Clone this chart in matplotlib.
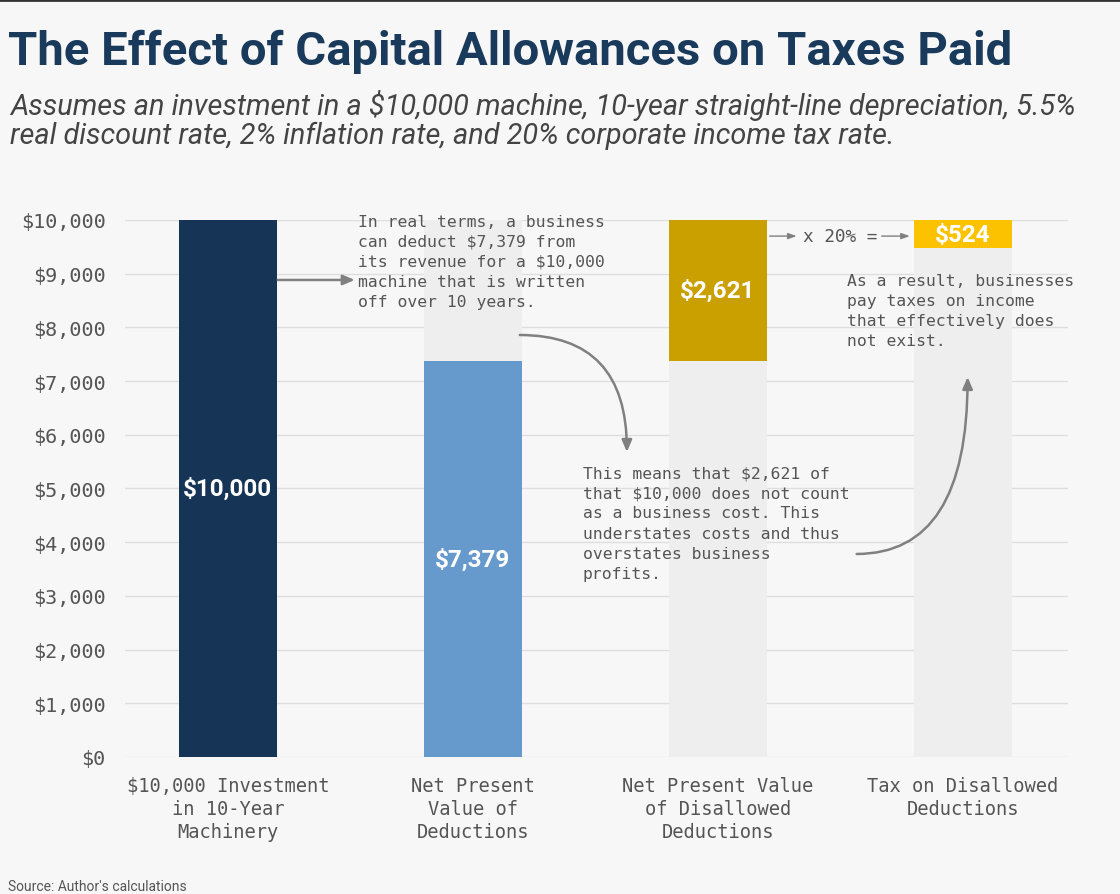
import matplotlib
matplotlib.use("Agg")
import matplotlib.pyplot as plt
from matplotlib.lines import Line2D

# Data
categories = ["$10,000 Investment\nin 10-Year\nMachinery",
              "Net Present\nValue of\nDeductions",
              "Net Present Value\nof Disallowed\nDeductions",
              "Tax on Disallowed\nDeductions"]
investment = 10000
npv_deductions = 7379
disallowed = 2621
tax_paid = 524
values = [investment, npv_deductions, disallowed, tax_paid]
bottoms = [0, 0, investment - disallowed, investment - tax_paid]
bar_colors = ["#163556", "#6699cc", "#c9a000", "#fcc200"]
yticks = list(range(0, 11000, 1000))

BG = "#f7f7f7"
TXT = "#555555"
ARROW = "#808080"
MONO = "DejaVu Sans Mono"

fig = plt.figure(figsize=(11.2, 8.95), dpi=100, facecolor=BG)
ax = fig.add_axes([0.1116, 0.1531, 0.8420, 0.6000], facecolor=BG)

x = list(range(len(values)))
width = 0.4

# light backdrop columns behind the last three bars
ax.bar(x[1:], [investment] * 3, width=width, color="#eeeeee", zorder=1)
ax.bar(x, values, width=width, bottom=bottoms, color=bar_colors, zorder=2)

for i, (v, b) in enumerate(zip(values, bottoms)):
    ax.text(i, b + v / 2, "${:,}".format(v), ha="center", va="center",
            color="white", fontsize=17.5, fontweight="bold", family="Roboto",
            zorder=3)

ax.set_xlim(-0.42, 3.43)
ax.set_ylim(0, 10000)
ax.set_yticks(yticks)
ax.set_yticklabels(["${:,}".format(t) for t in yticks], family=MONO,
                   fontsize=14.5, color=TXT)
ax.set_xticks(x)
ax.set_xticklabels(categories, family=MONO, fontsize=13.5, color=TXT,
                   linespacing=1.25)
ax.tick_params(axis="y", length=0, pad=14)
ax.tick_params(axis="x", length=0, pad=14)
ax.grid(axis="y", color="#dedede", lw=1)
ax.set_axisbelow(True)
for s in ax.spines.values():
    s.set_visible(False)

# annotations
note_kw = dict(family=MONO, fontsize=11.8, color=TXT, ha="left", va="top",
               linespacing=1.42, zorder=4)
ax.text(0.531, 10120, "In real terms, a business\ncan deduct $7,379 from\n"
        "its revenue for a $10,000\nmachine that is written\noff over 10 years.",
        **note_kw)
ax.text(1.449, 5430, "This means that $2,621 of\nthat $10,000 does not count\n"
        "as a business cost. This\nunderstates costs and thus\n"
        "overstates business\nprofits.", **note_kw)
ax.text(2.527, 9020, "As a result, businesses\npay taxes on income\n"
        "that effectively does\nnot exist.", **note_kw)
ax.text(2.347, 9700, "x 20% =", family=MONO, fontsize=12.8, color=TXT,
        ha="left", va="center", zorder=4)

big = dict(arrowstyle="-|>,head_length=0.7,head_width=0.3", color=ARROW,
           lw=1.8, shrinkA=0, shrinkB=0)
ax.annotate("", xy=(0.518, 8883), xytext=(0.204, 8883), arrowprops=big)
ax.annotate("", xy=(1.629, 5680), xytext=(1.192, 7858),
            arrowprops=dict(big, connectionstyle="angle3,angleA=0,angleB=90"))
ax.annotate("", xy=(3.02, 7076), xytext=(2.567, 3780),
            arrowprops=dict(big, connectionstyle="angle3,angleA=0,angleB=90"))
small = dict(arrowstyle="-|>,head_length=0.5,head_width=0.18", color=ARROW,
             lw=1, shrinkA=0, shrinkB=0)
ax.annotate("", xy=(2.322, 9700), xytext=(2.212, 9700), arrowprops=small)
ax.annotate("", xy=(2.784, 9700), xytext=(2.669, 9700), arrowprops=small)

# titles
fig.text(0.007, 1 - 65 / 895, "The Effect of Capital Allowances on Taxes Paid",
         family="Roboto", fontweight="bold", fontsize=34, color="#1a3a5c",
         va="baseline", ha="left")
fig.text(0.009, 1 - 115 / 895,
         "Assumes an investment in a $10,000 machine, 10-year straight-line depreciation, 5.5%",
         family="Roboto", style="italic", fontsize=20.8, color="#444444",
         va="baseline", ha="left")
fig.text(0.009, 1 - 144 / 895,
         "real discount rate, 2% inflation rate, and 20% corporate income tax rate.",
         family="Roboto", style="italic", fontsize=20.8, color="#444444",
         va="baseline", ha="left")
fig.text(0.007, 1 - 891 / 895, "Source: Author's calculations", family="Roboto",
         fontsize=10, color="#555555", va="baseline", ha="left")

# dark rule at the very top
fig.add_artist(Line2D([0, 1], [0.999, 0.999], transform=fig.transFigure,
                      color="#333333", lw=2))

fig.savefig("out.png", dpi=100, facecolor=BG)
